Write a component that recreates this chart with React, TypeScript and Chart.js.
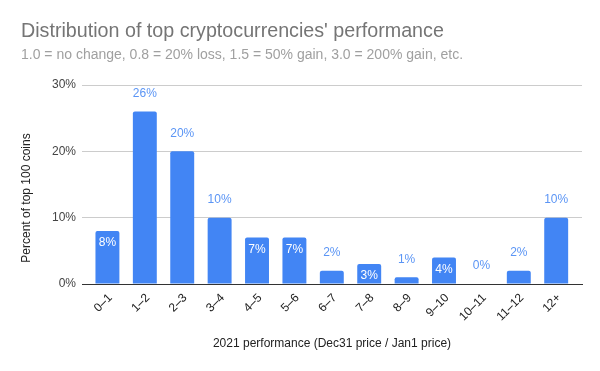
import React, { useEffect, useRef } from "react";
import { Chart, registerables } from "chart.js";

Chart.register(...registerables);

const categories = ["0–1", "1–2", "2–3", "3–4", "4–5", "5–6", "6–7", "7–8", "8–9", "9–10", "10–11", "11–12", "12+"];
const percentValues = [8, 26, 20, 10, 7, 7, 2, 3, 1, 4, 0, 2, 10];
const labelInside = [true, false, false, false, true, true, false, true, false, true, false, false, false];
const yTicks = [0, 10, 20, 30];
const titleText = "Distribution of top cryptocurrencies' performance";
const subtitleText = "1.0 = no change, 0.8 = 20% loss, 1.5 = 50% gain, 3.0 = 200% gain, etc.";
const xTitle = "2021 performance (Dec31 price / Jan1 price)";
const yTitle = "Percent of top 100 coins";

const FONT = "'Liberation Sans', Arial, sans-serif";

const overlayPlugin = {
  id: "overlay",
  afterDraw(chart: any) {
    const ctx = chart.ctx;
    const area = chart.chartArea;
    ctx.save();
    ctx.textBaseline = "alphabetic";
    ctx.textAlign = "left";
    ctx.fillStyle = "#757575";
    ctx.font = `19.7px ${FONT}`;
    ctx.fillText(titleText, 21, 37);
    ctx.fillStyle = "#a0a0a0";
    ctx.font = `14px ${FONT}`;
    ctx.fillText(subtitleText, 21, 59);

    ctx.textBaseline = "middle";
    // y axis title
    ctx.save();
    ctx.translate(27, 198);
    ctx.rotate(-Math.PI / 2);
    ctx.textAlign = "center";
    ctx.fillStyle = "#222222";
    ctx.font = `12px ${FONT}`;
    ctx.fillText(yTitle, 0, 0);
    ctx.restore();

    const meta = chart.getDatasetMeta(0);
    ctx.font = `12px ${FONT}`;
    meta.data.forEach((bar: any, i: number) => {
      const txt = percentValues[i] + "%";
      ctx.textAlign = "center";
      if (labelInside[i]) {
        ctx.fillStyle = "#ffffff";
        ctx.fillText(txt, bar.x, bar.y + 12);
      } else {
        ctx.fillStyle = "#5b95f5";
        ctx.fillText(txt, bar.x, bar.y - 18);
      }
      // x category label, rotated 45deg
      ctx.save();
      ctx.translate(bar.x + 3, area.bottom + 12);
      ctx.rotate(-Math.PI / 4);
      ctx.textAlign = "right";
      ctx.fillStyle = "#222222";
      ctx.fillText(categories[i], 0, 0);
      ctx.restore();
    });
    ctx.restore();
  },
};

export default function App() {
  const ref = useRef<HTMLCanvasElement | null>(null);
  useEffect(() => {
    if (!ref.current) return;
    const chart = new Chart(ref.current, {
      type: "bar",
      data: {
        datasets: [
          {
            data: percentValues.map((v, i) => ({ x: i, y: v })),
            backgroundColor: "#4285f4",
            borderRadius: 2,
            borderSkipped: "bottom",
            barPercentage: 0.64,
            categoryPercentage: 1.0,
          },
        ],
      },
      options: {
        animation: false,
        responsive: false,
        maintainAspectRatio: false,
        layout: { padding: { left: 20, right: 18, top: 85, bottom: 0 } },
        plugins: {
          legend: { display: false },
          tooltip: { enabled: false },
          title: { display: false },
        },
        scales: {
          x: {
            type: "linear",
            offset: false,
            min: -0.68,
            max: 12.69,
            grid: { display: false, drawTicks: false, offset: false },
            border: { color: "#333333", width: 1 },
            ticks: { display: false },
            title: {
              display: true,
              text: xTitle,
              color: "#222222",
              font: { family: FONT, size: 12 },
              padding: { top: 0, bottom: 20 },
            },
            afterFit(scale: any) {
              scale.height = 87;
            },
          },
          y: {
            min: 0,
            max: 30,
            afterBuildTicks(scale: any) {
              scale.ticks = yTicks.map((v) => ({ value: v }));
            },
            grid: { color: "#cccccc", drawTicks: false },
            border: { display: false },
            ticks: {
              padding: 6,
              color: "#444444",
              font: { family: FONT, size: 12 },
              callback: (v: any) => v + "%",
            },
            afterFit(scale: any) {
              scale.width = 62;
            },
          },
        },
      },
      plugins: [overlayPlugin],
    });
    return () => chart.destroy();
  }, []);
  return (
    <div style={{ position: "fixed", left: 0, top: 0, width: 600, height: 371, background: "#fff" }}>
      <canvas ref={ref} width={600} height={371} style={{ width: 600, height: 371 }} />
    </div>
  );
}
